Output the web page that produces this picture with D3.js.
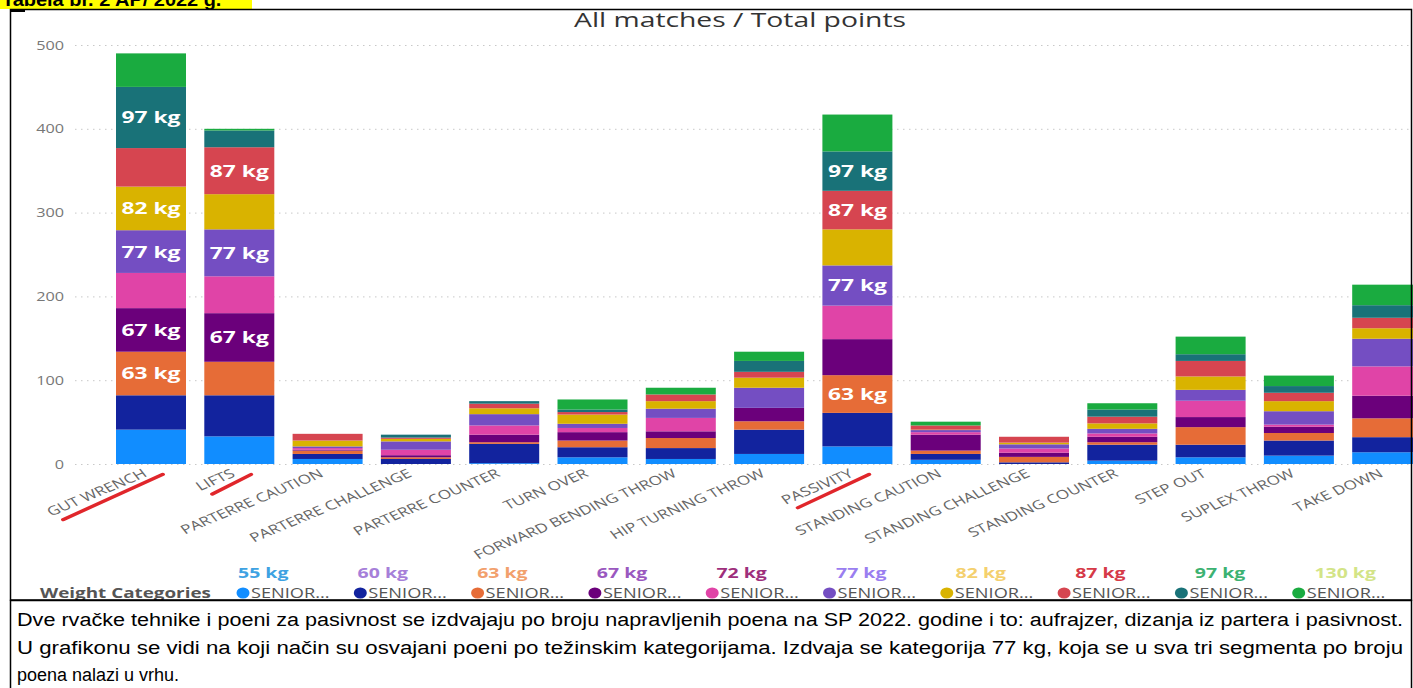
<!DOCTYPE html>
<html>
<head>
<meta charset="utf-8">
<script src="https://cdn.jsdelivr.net/npm/d3@7"></script>
<style>
  html, body { margin: 0; padding: 0; background: #fff; }
  svg { display: block; }
</style>
</head>
<body>
<svg id="chart" width="1413" height="688"></svg>
<script>
// ---------------- DATA ----------------
const categories = ["GUT WRENCH","LIFTS","PARTERRE CAUTION","PARTERRE CHALLENGE","PARTERRE COUNTER","TURN OVER","FORWARD BENDING THROW","HIP TURNING THROW","PASSIVITY","STANDING CAUTION","STANDING CHALLENGE","STANDING COUNTER","STEP OUT","SUPLEX THROW","TAKE DOWN"];
const weights = ["55 kg","60 kg","63 kg","67 kg","72 kg","77 kg","82 kg","87 kg","97 kg","130 kg"];
const w55  = [41,33,6,0,1,8,6,12,21,5,0,4,8,10,14];
const w60  = [41,49,6,6,23,12,13,29,40,7,2,19,15,18,18];
const w63  = [52,40,4,2,2,8,12,10,45,4,6.5,3,21,9,22.5];
const w67  = [52,58,1,2.5,9,10,8,16,43,19,5,6.5,12,7.5,27];
const w72  = [42,44,2,6.5,11,5,16,0,40,3,5,4,19.5,2.5,35];
const w77  = [51,56,2,10,13.5,5,11,24,48,2.5,5,5.5,13,16,33];
const w82  = [52,42,7,3,7,11,9,12,43,0.5,2,6.5,16,12,12.5];
const w87  = [46,56,8,1.5,5.5,3,8,7,46,5,7,8,18.5,10,12.5];
const w97  = [73,20,0,3.5,3,3,0,13,47,0,0,8.5,8,8,15];
const w130 = [40,2,0,0,0,12,8,11,44,4.5,0,7.5,21,12.5,24.5];
const seriesValues = [w55,w60,w63,w67,w72,w77,w82,w87,w97,w130];
const yTicks = [0,100,200,300,400,500];
const labeledSegments = [
  ["GUT WRENCH","63 kg"],["GUT WRENCH","67 kg"],["GUT WRENCH","77 kg"],["GUT WRENCH","82 kg"],["GUT WRENCH","97 kg"],
  ["LIFTS","67 kg"],["LIFTS","77 kg"],["LIFTS","87 kg"],
  ["PASSIVITY","63 kg"],["PASSIVITY","77 kg"],["PASSIVITY","87 kg"],["PASSIVITY","97 kg"]
];
const underlined = ["GUT WRENCH","LIFTS","PASSIVITY"];
const seriesColors = ["#118DFF","#12239E","#E66C37","#6B007B","#E044A7","#744EC2","#D9B300","#D64550","#197278","#1AAB40"];
const annotColors  = ["#3ea2e2","#a67fd9","#f2a06c","#9a58bf","#9e2f7c","#9a7ef0","#f4d06e","#d63a48","#3cb272","#d3e487"];
const legendTitle = "Weight Categories";
const legendItemText = "SENIOR...";
const chartTitle = "All matches / Total points";
const headerText = "Tabela br. 2 AP/ 2022 g.";
const captionLines = [
  "Dve rvačke tehnike i poeni za pasivnost se izdvajaju po broju napravljenih poena na SP 2022. godine i to: aufrajzer, dizanja iz partera i pasivnost.",
  "U grafikonu se vidi na koji način su osvajani poeni po težinskim kategorijama. Izdvaja se kategorija 77 kg, koja se u sva tri segmenta po broju",
  "poena nalazi u vrhu."
];

// ---------------- DRAW ----------------
const svg = d3.select("#chart");
const W = 1413, H = 688;
const FONT = "'Open Sans','Noto Sans',sans-serif";
const SX = 1.38; // horizontal stretch of the captured chart text
const SEP = 600; // line between chart box and caption box

// header highlight (cut off at top, as in the capture)
svg.append("rect").attr("x",0).attr("y",0).attr("width",252).attr("height",9).attr("fill","#ffff00");
svg.append("text").attr("transform","translate(2,6) scale(1.05,1)")
  .attr("font-family","'Liberation Sans',Arial,sans-serif")
  .attr("font-weight","bold").attr("font-size",19).attr("fill","#000").text(headerText);

const clip = svg.append("defs").append("clipPath").attr("id","plotclip");
clip.append("rect").attr("x",11).attr("y",10).attr("width",1402).attr("height",SEP-10);
const g = svg.append("g").attr("clip-path","url(#plotclip)");

// scales
const step = 88.3, barW = 70, firstX = 116;
const pin = (step-barW)/step;
const x = d3.scaleBand().domain(categories)
  .range([firstX, firstX + step*(categories.length - pin)])
  .paddingInner(pin).paddingOuter(0);
const y = d3.scaleLinear().domain([0,500]).range([464,45]);
const color = d3.scaleOrdinal().domain(weights).range(seriesColors);

// title
g.append("text").attr("transform",`translate(740,27) scale(${SX},1)`).attr("text-anchor","middle")
  .attr("font-family",FONT).attr("font-size",20.5).attr("fill","#333").text(chartTitle);

// grid + y axis
const yAxis = d3.axisLeft(y).tickValues(yTicks).tickSize(0).tickPadding(0);
const ya = g.append("g").attr("transform","translate(64,0)").call(yAxis);
ya.select(".domain").remove();
ya.selectAll("text").attr("font-family",FONT).attr("font-size",13).attr("fill","#777")
  .attr("transform",`scale(1.25,1)`);
g.append("g").selectAll("line").data(yTicks).join("line")
  .attr("x1",75).attr("x2",W).attr("y1",d=>y(d)+0.5).attr("y2",d=>y(d)+0.5)
  .attr("stroke","#c8c8c8").attr("stroke-width",1).attr("stroke-dasharray","1.5,4.5");

// stacked data
const table = categories.map((c,i)=>{
  const o = {cat:c};
  weights.forEach((w,j)=>{ o[w] = seriesValues[j][i]; });
  return o;
});
const stacked = d3.stack().keys(weights)(table);

g.append("g").selectAll("g").data(stacked).join("g")
  .attr("fill",d=>color(d.key))
  .selectAll("rect").data(d=>d).join("rect")
  .attr("x",d=>x(d.data.cat)).attr("width",x.bandwidth())
  .attr("y",d=>y(d[1])).attr("height",d=>Math.max(0,y(d[0])-y(d[1])));

// data labels
const labelData = labeledSegments.map(([c,w])=>{
  const s = stacked[weights.indexOf(w)][categories.indexOf(c)];
  return {c,w,mid:(s[0]+s[1])/2};
});
g.append("g").selectAll("text").data(labelData).join("text")
  .attr("transform",d=>`translate(${x(d.c)+x.bandwidth()/2},${y(d.mid)}) scale(${SX},1)`)
  .attr("dy","0.36em")
  .attr("text-anchor","middle").attr("font-family",FONT).attr("font-weight","bold")
  .attr("font-size",16.5).attr("fill","#fff").text(d=>d.w);

// x axis labels (rotated) + red underline annotations
const xg = g.append("g").selectAll("g").data(categories).join("g")
  .attr("transform",d=>`translate(${x(d)+x.bandwidth()/2-3},${476}) scale(${SX},1) rotate(-30)`);
xg.append("text").attr("text-anchor","end").attr("font-family",FONT).attr("font-size",12.5)
  .attr("fill","#666").text(d=>d);
xg.filter(d=>underlined.includes(d)).each(function(){
  const sel = d3.select(this);
  const len = sel.select("text").node().getComputedTextLength();
  sel.append("line").attr("x1",-len+6).attr("y1",7).attr("x2",10).attr("y2",4)
    .attr("stroke","#e0262b").attr("stroke-width",3.2).attr("stroke-linecap","round");
});

// legend
const legStep = 117.3, legX0 = 243, legY = 593;
g.append("text").attr("transform",`translate(40,${legY}) scale(1.3,1)`).attr("dy","0.35em")
  .attr("font-family",FONT).attr("font-weight","bold").attr("font-size",14.5)
  .attr("fill","#555").text(legendTitle);
const li = g.append("g").selectAll("g").data(weights).join("g")
  .attr("transform",(d,i)=>`translate(${legX0+i*legStep},${legY})`);
li.append("ellipse").attr("rx",6.5).attr("ry",5.5).attr("fill",d=>color(d));
li.append("text").attr("transform","translate(8,0) scale(1.3,1)").attr("dy","0.35em").attr("font-family",FONT)
  .attr("font-size",14).attr("fill","#555").text(legendItemText);
li.append("text").attr("transform",(d,i)=>`translate(${-5+i*2.3},-15) scale(1.3,1)`)
  .attr("font-family",FONT).attr("font-weight","bold").attr("font-size",15)
  .attr("fill",(d,i)=>annotColors[i]).text(d=>d);

// caption
const cap = svg.append("g");
captionLines.forEach((t,i)=>{
  const el = cap.append("text").attr("x",17).attr("y",626+i*27.5)
    .attr("font-family","'Liberation Sans',Arial,sans-serif")
    .attr("font-size",18).attr("fill","#000").text(t);
  if (i < 2) el.attr("textLength",1386).attr("lengthAdjust","spacingAndGlyphs");
});

// frames (on top)
svg.append("rect").attr("x",10.5).attr("y",9.5).attr("width",1401).attr("height",SEP-9.5)
  .attr("fill","none").attr("stroke","#000").attr("stroke-width",1.5);
svg.append("rect").attr("x",10.5).attr("y",SEP+0.5).attr("width",1401).attr("height",H-SEP+2)
  .attr("fill","none").attr("stroke","#000").attr("stroke-width",1.5);
svg.append("line").attr("x1",10).attr("x2",25).attr("y1",10.5).attr("y2",10.5).attr("stroke","#000").attr("stroke-width",3);
</script>
</body>
</html>
